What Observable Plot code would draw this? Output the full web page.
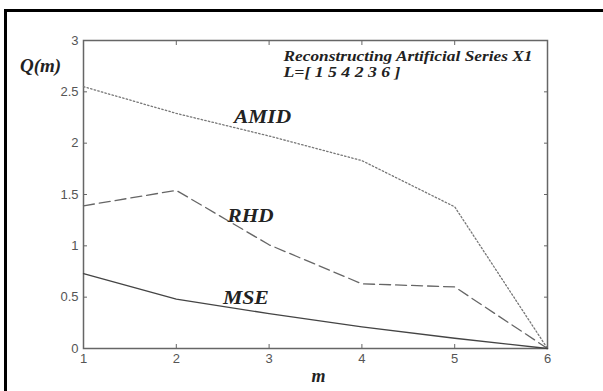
<!DOCTYPE html>
<html>
<head>
<meta charset="utf-8">
<script src="https://cdn.jsdelivr.net/npm/d3@7"></script>
<script src="https://cdn.jsdelivr.net/npm/@observablehq/plot@0.6"></script>
<style>
  html, body { margin: 0; padding: 0; background: #fff; }
  #wrap { position: relative; width: 603px; height: 391px; overflow: hidden; }
  #border { position: absolute; left: 4px; top: 9px; right: -10px; bottom: -10px; border-top: 3px solid #000; border-left: 3px solid #000; pointer-events: none; }
</style>
</head>
<body>
<div id="wrap"><div id="border"></div></div>
<script>
const m = [1, 2, 3, 4, 5, 6];
const amid = [2.55, 2.29, 2.07, 1.83, 1.38, 0.0];
const rhd = [1.39, 1.54, 1.01, 0.63, 0.60, 0.0];
const mse = [0.73, 0.48, 0.34, 0.21, 0.10, 0.0];
const xTicks = [1, 2, 3, 4, 5, 6];
const yTicks = [0, 0.5, 1, 1.5, 2, 2.5, 3];
const titleLines = ["Reconstructing Artificial Series X1", "L=[ 1 5 4 2 3 6 ]"];

const rows = (vals) => m.map((x, i) => ({m: x, q: vals[i]}));
const serif = "'Liberation Serif', 'DejaVu Serif', serif";
const tickFont = "'Liberation Sans', Arial, sans-serif";
const lab = {fontFamily: serif, fontWeight: "bold", fontStyle: "italic", fill: "#222"};

const chart = Plot.plot({
  width: 603,
  height: 391,
  marginLeft: 83,
  marginRight: 56,
  marginTop: 40,
  marginBottom: 43,
  style: {background: "transparent", fontFamily: tickFont, fontSize: "13px", color: "#555", overflow: "visible"},
  x: {domain: [1, 6]},
  y: {domain: [0, 3]},
  marks: [
    Plot.axisX(xTicks, {tickSize: -4, tickPadding: 9, label: null, stroke: "#666", fill: "#555", fontSize: 13}),
    Plot.axisY(yTicks, {tickSize: -4, tickPadding: 9, label: null, stroke: "#666", fill: "#555", fontSize: 13, tickFormat: d => String(d)}),
    Plot.axisX(xTicks, {anchor: "top", tickSize: -4, label: null, stroke: "#666", tickFormat: () => ""}),
    Plot.axisY(yTicks, {anchor: "right", tickSize: -4, label: null, stroke: "#666", tickFormat: () => ""}),
    Plot.frame({stroke: "#666", strokeWidth: 1.5}),
    Plot.line(rows(amid), {x: "m", y: "q", stroke: "#777", strokeWidth: 1.3, strokeDasharray: "1.5,2.2"}),
    Plot.line(rows(rhd), {x: "m", y: "q", stroke: "#666", strokeWidth: 1.3, strokeDasharray: "11,5"}),
    Plot.line(rows(mse), {x: "m", y: "q", stroke: "#444", strokeWidth: 1.3}),
    Plot.text(["AMID"], {x: 2.93, y: 2.25, text: d => d, fontSize: 18, className: "w57", ...lab}),
    Plot.text(["RHD"], {x: 2.8, y: 1.29, text: d => d, fontSize: 18, className: "w46", ...lab}),
    Plot.text(["MSE"], {x: 2.75, y: 0.49, text: d => d, fontSize: 18, className: "w46", ...lab}),
    Plot.text([titleLines[0]], {x: 3.155, y: 2.84, text: d => d, textAnchor: "start", fontSize: 14, className: "w249", ...lab}),
    Plot.text([titleLines[1]], {x: 3.155, y: 2.69, text: d => d, textAnchor: "start", fontSize: 14, className: "w117", ...lab}),
    Plot.text(["Q(m)"], {frameAnchor: "top-left", dx: -43, dy: 25, textAnchor: "middle", lineAnchor: "middle", text: d => d, fontSize: 19, ...lab}),
    Plot.text(["m"], {frameAnchor: "bottom", dx: 3, dy: 28, textAnchor: "middle", lineAnchor: "middle", text: d => d, fontSize: 18, ...lab})
  ]
});
for (const w of [57, 46, 249, 117]) {
  chart.querySelectorAll(`.w${w} text`).forEach(t => {
    t.setAttribute("textLength", w);
    t.setAttribute("lengthAdjust", "spacingAndGlyphs");
  });
}
document.getElementById("wrap").insertBefore(chart, document.getElementById("border"));
</script>
</body>
</html>
